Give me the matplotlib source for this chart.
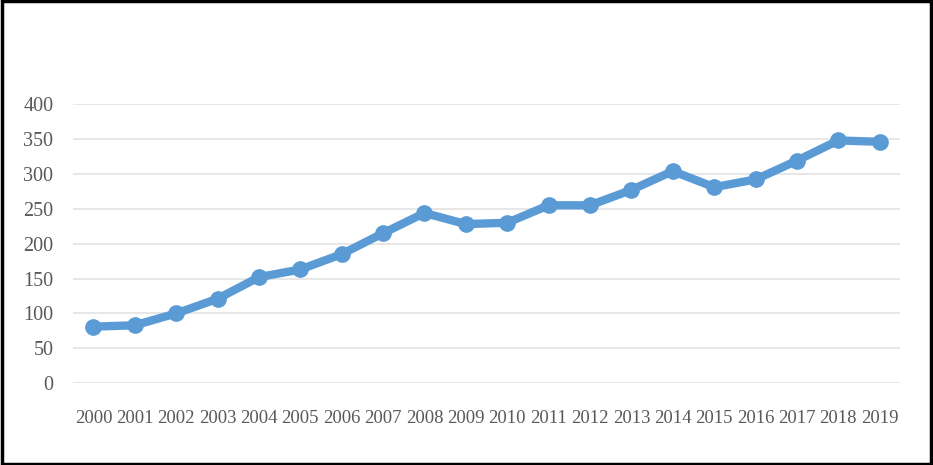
import numpy as np
import matplotlib.pyplot as plt
from matplotlib.patches import Rectangle

# donnees
years = [str(y) for y in range(2000, 2020)]
values = [81, 83, 100, 121, 152, 163, 185, 215, 244, 228,
          230, 255, 255, 277, 304, 281, 292, 319, 348, 346]
yticks = [0, 50, 100, 150, 200, 250, 300, 350, 400]

plt.rcParams['font.family'] = ['Liberation Serif', 'DejaVu Serif']

fig = plt.figure(figsize=(9.33, 4.65), dpi=100)
ax = fig.add_axes([0.078, 0.176, 0.887, 0.600])

x = np.arange(len(years))
ax.plot(x, values, color='#5B9BD5', linewidth=6, marker='o',
        markersize=11, markerfacecolor='#5B9BD5', markeredgecolor='#5B9BD5',
        solid_capstyle='round', zorder=3)

ax.set_xlim(-0.5, len(years) - 0.5)
ax.set_ylim(0, 400)
ax.set_yticks(yticks)
ax.set_xticks(x)
ax.set_xticklabels(years)

ax.grid(axis='y', color='#E3E3E3', linewidth=1.2)
ax.set_axisbelow(True)
for s in ax.spines.values():
    s.set_visible(False)
ax.tick_params(axis='both', length=0, labelsize=13.5, labelcolor='#595959')
ax.tick_params(axis='y', labelsize=14.5, pad=14)
ax.tick_params(axis='x', pad=19)

# cadre noir
fig.patches.append(Rectangle((0.002, 0.003), 0.996, 0.994, transform=fig.transFigure,
                             fill=False, edgecolor='black', linewidth=2.5))

fig.savefig('out.png', dpi=100)
